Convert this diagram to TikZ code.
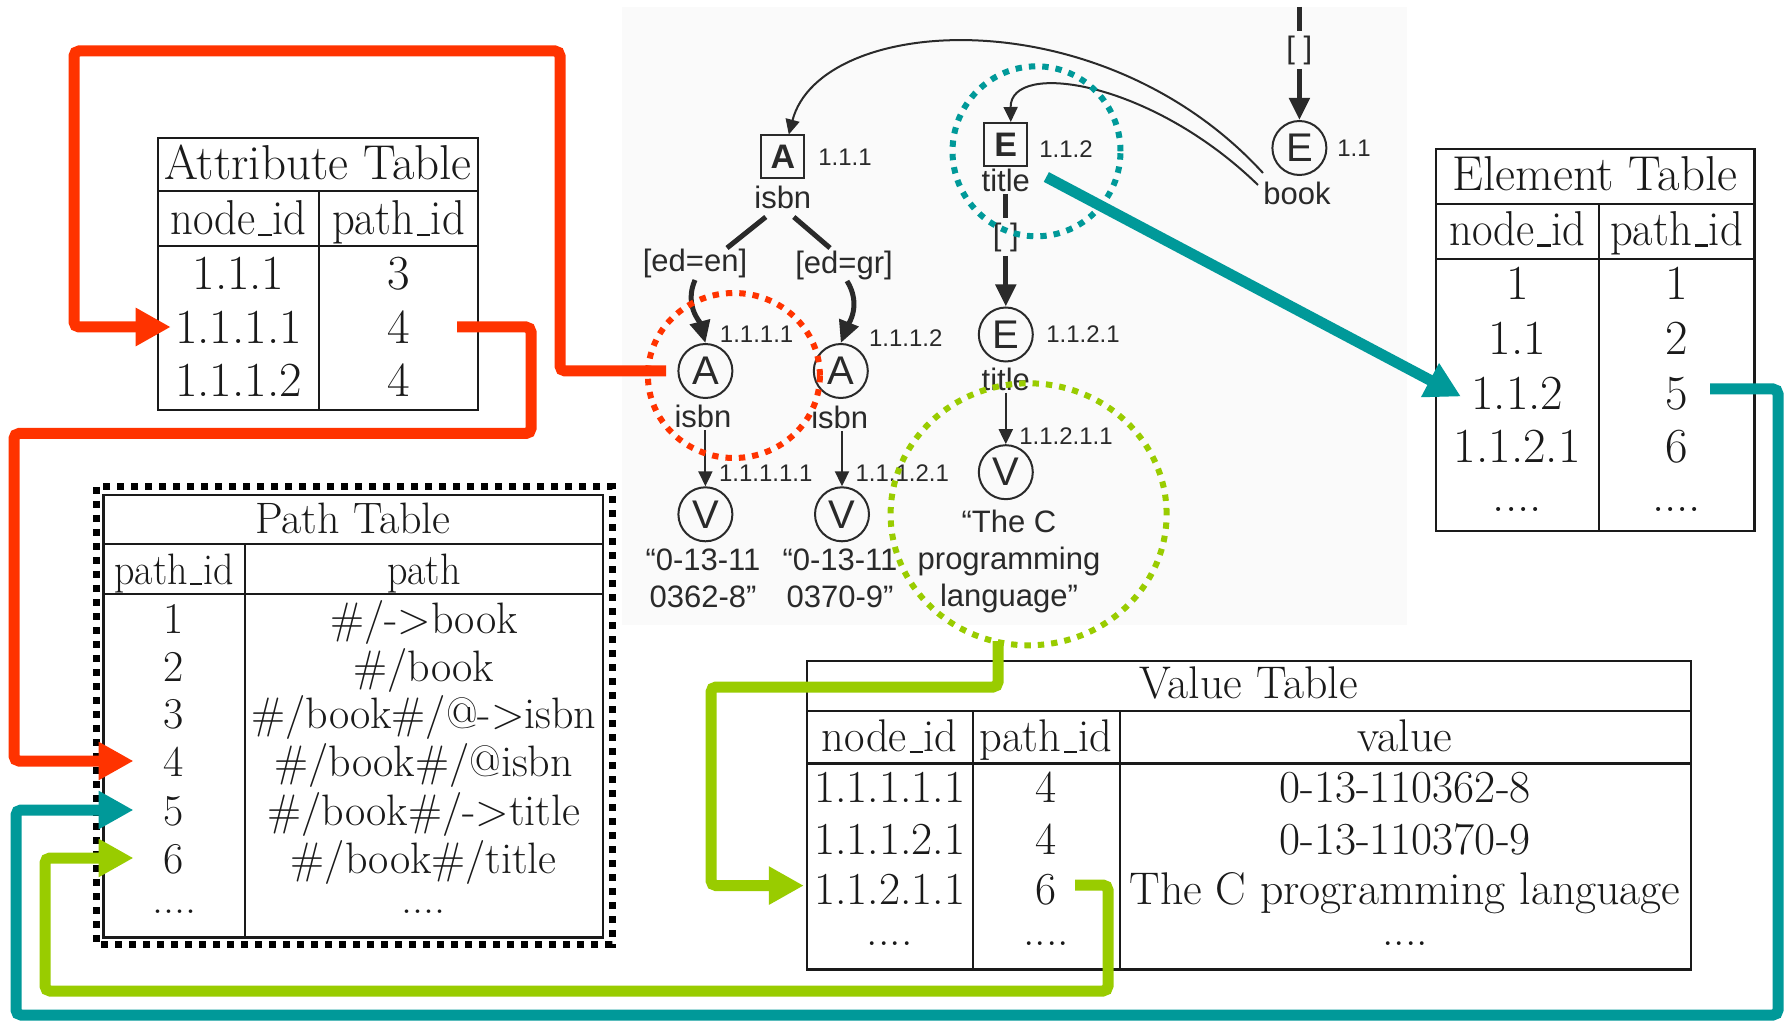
\documentclass[tikz,border=0pt]{standalone}
\usepackage{fontspec}
\newfontfamily\arialf{Liberation Sans}
\usetikzlibrary{arrows.meta,shapes.geometric,calc}
\definecolor{cRed}{HTML}{FF3300}
\definecolor{cTeal}{HTML}{009999}
\definecolor{cGreen}{HTML}{99CC00}
\definecolor{treeBg}{HTML}{FAFAFA}
\definecolor{ink}{HTML}{1A1A1A}
\definecolor{treeInk}{HTML}{2A2A2A}
% thin baseline rule used as underscore in column headers
\newcommand\usc{\kern.06em\rule[-0.02em]{.3em}{.045em}\kern.02em}
\newcommand\hd[2]{\scalebox{#1}[1]{#2}}
\begin{document}
\begin{tikzpicture}[x=0.5pt,y=-0.5pt,
  tabrule/.style={draw=ink, line width=1.1pt},
  pathbox/.style={draw=black, line width=3.5pt, dash pattern=on 3.5pt off 3.5pt},
  attf/.style={inner sep=0pt, text height=16.9pt, text depth=0pt, text=ink, font=\fontsize{24.5}{29}\selectfont},
  ptf/.style={inner sep=0pt, text height=15.2pt, text depth=0pt, text=ink, font=\fontsize{22}{26}\selectfont},
  valf/.style={inner sep=0pt, text height=15.8pt, text depth=0pt, text=ink, font=\fontsize{22.9}{27}\selectfont},
  tnode/.style={draw=treeInk, line width=1pt, inner sep=0pt, text=treeInk},
  circ/.style={tnode, circle, minimum size=27pt, font=\arialf\fontsize{20}{20}\selectfont},
  sq/.style={tnode, rectangle, minimum size=21.5pt, font=\arialf\bfseries\fontsize{17}{17}\selectfont},
  lbl/.style={text=treeInk, inner sep=1pt, font=\arialf\fontsize{15.5}{18.4}\selectfont},
  idl/.style={text=treeInk, inner sep=0pt, font=\arialf\fontsize{12}{14}\selectfont},
  thinarc/.style={draw=treeInk, line width=1pt, -{Triangle[length=7.5pt,width=7pt]}},
  thinarrow/.style={draw=treeInk, line width=1pt, -{Triangle[length=7.5pt,width=7pt]}},
  boldedge/.style={draw=treeInk, line width=2.5pt},
  boldarrow/.style={draw=treeInk, line width=2.5pt, -{Triangle[length=11pt,width=10pt]}},
  ring/.style={ellipse, line width=3pt, dash pattern=on 3.2pt off 3.5pt, inner sep=0pt},
  conn/.style={line width=5.5pt, rounded corners=2.5pt, -{Triangle[length=17.5pt,width=18pt]}}
]
\useasboundingbox (0,0) rectangle (1784,1021);
\fill[white] (0,0) rectangle (1784,1021);

% ---------- document tree ----------
\fill[treeBg] (622,7) rectangle (1407,625);

\coordinate (topIn) at (1299.4,7);
\node[circ] (bookE) at (1299.4,148) {E};
\node[idl] (bookId) at (1354,148) {1.1};
\node[lbl] (bookLbl) at (1297,193) {book};
\node[lbl, inner sep=2pt] (brTop) at (1299.4,50) {[ ]};

\node[sq] (aSq) at (782.8,157) {A};
\node[idl] (aSqId) at (845,157) {1.1.1};
\node[lbl] (aSqLbl) at (782.8,197) {isbn};

\node[sq] (eSq) at (1005.8,144.5) {E};
\node[idl] (eSqId) at (1066,149) {1.1.2};
\node[lbl] (eSqLbl) at (1005.8,180) {title};
\node[lbl, inner sep=2pt] (brMid) at (1005.8,237) {[ ]};

\node[lbl] (edEn) at (695,263) {[ed=en]};
\node[lbl] (edGr) at (844,265) {[ed=gr]};

\node[circ] (aC1) at (705.4,371) {A};
\node[idl] (aC1Id) at (756.6,334.5) {1.1.1.1};
\node[lbl] (aC1Lbl) at (703,416.4) {isbn};
\node[circ] (aC2) at (840.8,371) {A};
\node[idl] (aC2Id) at (905.7,338) {1.1.1.2};
\node[lbl] (aC2Lbl) at (839.7,417.6) {isbn};

\node[circ] (vC1) at (705.4,514.3) {V};
\node[idl] (vC1Id) at (765.7,473.3) {1.1.1.1.1};
\node[lbl, align=center] (val1) at (703,578) {“0-13-11\\0362-8”};
\node[circ] (vC2) at (842,514.3) {V};
\node[idl] (vC2Id) at (902.3,473.3) {1.1.1.2.1};
\node[lbl, align=center] (val2) at (840,578) {“0-13-11\\0370-9”};

\node[circ] (eC) at (1005.8,334.5) {E};
\node[idl] (eCId) at (1083,334.5) {1.1.2.1};
\node[lbl] (eCLbl) at (1005.8,379) {title};
\node[circ] (vC3) at (1005.8,472.2) {V};
\node[idl] (vC3Id) at (1066,435.8) {1.1.2.1.1};
\node[lbl, align=center] (val3) at (1009,561.5) {“The C\\programming\\language”};

% tree edges
\draw[boldedge] (topIn) -- (brTop);
\draw[boldarrow] (brTop) -- (bookE);
\draw[thinarc] ($(bookLbl)+(-34,-20)$) .. controls (1100,-5) and (820,15) .. ($(aSq.north)+(6,0)$);
\draw[thinarc] ($(bookLbl)+(-39,-8)$) .. controls (1150,80) and (1010,60) .. ($(eSq.north)+(5,0)$);
\draw[boldedge] ($(aSqLbl)+(-17,20)$) -- ($(edEn)+(32,-15)$);
\draw[boldedge] ($(aSqLbl)+(11,20)$) -- ($(edGr)+(-14,-17)$);
\draw[boldarrow] ($(edEn)+(0,17)$) .. controls (684,305) and (700,322) .. (aC1.north);
\draw[boldarrow] ($(edGr)+(3,16)$) .. controls (862,305) and (848,325) .. (aC2.north);
\draw[thinarrow] (aC1Lbl.south -| vC1.north) -- (vC1.north);
\draw[thinarrow] (aC2Lbl.south -| vC2.north) -- (vC2.north);
\draw[boldedge] (eSqLbl) -- (brMid);
\draw[boldarrow] (brMid) -- (eC);
\draw[thinarrow] (eCLbl) -- (vC3);

% highlight rings
\node[ring, draw=cTeal, minimum width=84pt, minimum height=85pt] (tealRing) at (1036.5,151.3) {};
\node[ring, draw=cRed, minimum width=86pt, minimum height=82.5pt] (redRing) at (733.9,375.5) {};
\node[ring, draw=cGreen, minimum width=138pt, minimum height=131pt] (greenRing) at (1028.6,514.3) {};

% ---------- Attribute Table ----------
\draw[tabrule] (158,138) rectangle (478,410);
\draw[tabrule] (158,191) -- (478,191) (158,246) -- (478,246) (319,191) -- (319,410);
\node[attf] (attTitle) at (318,163) {Attribute Table};
\node[attf] (attH1) at (238.5,218) {\hd{0.91}{node\usc id}};
\node[attf] (attH2) at (398.5,218) {\hd{0.91}{path\usc id}};
\node[attf] (attR1a) at (238.5,273) {1.1.1};
\node[attf] (attR1b) at (398.5,273) {3};
\node[attf] (attR2a) at (238.5,327) {1.1.1.1};
\node[attf] (attR2b) at (398.5,327) {4};
\node[attf] (attR3a) at (238.5,380) {1.1.1.2};
\node[attf] (attR3b) at (398.5,380) {4};

% ---------- Element Table ----------
\draw[tabrule] (1436,149) rectangle (1754.5,531);
\draw[tabrule] (1436,203.7) -- (1754.5,203.7) (1436,259.4) -- (1754.5,259.4) (1598.6,203.7) -- (1598.6,531);
\node[attf] (elTitle) at (1595,174) {Element Table};
\node[attf] (elH1) at (1517.3,228.7) {\hd{0.91}{node\usc id}};
\node[attf] (elH2) at (1676.5,228.7) {\hd{0.91}{path\usc id}};
\node[attf] (elR1a) at (1517.3,283) {1};
\node[attf] (elR1b) at (1676.5,283) {1};
\node[attf] (elR2a) at (1517.3,338) {1.1};
\node[attf] (elR2b) at (1676.5,338) {2};
\node[attf] (elR3a) at (1517.3,392.5) {1.1.2};
\node[attf] (elR3b) at (1676.5,392.5) {5};
\node[attf] (elR4a) at (1517.3,446) {1.1.2.1};
\node[attf] (elR4b) at (1676.5,446) {6};
\node[attf] (elR5a) at (1517.3,495) {....};
\node[attf] (elR5b) at (1676.5,495) {....};

% ---------- Path Table ----------
\draw[pathbox] (96,487) rectangle (612,944);
\draw[tabrule] (103.5,495) rectangle (603,937.5);
\draw[tabrule] (103.5,544) -- (603,544) (103.5,594) -- (603,594) (244.6,544) -- (244.6,937.5);
\node[ptf] (ptTitle) at (353,518) {Path Table};
\node[ptf] (ptH1) at (174,569) {\hd{0.91}{path\usc id}};
\node[ptf] (ptH2) at (423.8,569) {\hd{0.91}{path}};
\node[ptf] (ptR1a) at (174,618) {1};
\node[ptf] (ptR1b) at (423.8,618) {\#/->book};
\node[ptf] (ptR2a) at (174,666) {2};
\node[ptf] (ptR2b) at (423.8,666) {\#/book};
\node[ptf] (ptR3a) at (174,713) {3};
\node[ptf] (ptR3b) at (423.8,713) {\#/book\#/@->isbn};
\node[ptf] (ptR4a) at (174,761) {4};
\node[ptf] (ptR4b) at (423.8,761) {\#/book\#/@isbn};
\node[ptf] (ptR5a) at (174,810) {5};
\node[ptf] (ptR5b) at (423.8,810) {\#/book\#/->title};
\node[ptf] (ptR6a) at (174,858) {6};
\node[ptf] (ptR6b) at (423.8,858) {\#/book\#/title};
\node[ptf] (ptR7a) at (174,898) {....};
\node[ptf] (ptR7b) at (423.8,898) {....};

% ---------- Value Table ----------
\draw[tabrule] (806.7,661) rectangle (1690.8,969.4);
\draw[tabrule] (806.7,711) -- (1690.8,711) (806.7,763.5) -- (1690.8,763.5)
  (972.8,711) -- (972.8,969.4) (1119.6,711) -- (1119.6,969.4);
\node[valf] (vlTitle) at (1248.7,682.7) {Value Table};
\node[valf] (vlH1) at (889.7,736) {\hd{0.97}{node\usc id}};
\node[valf] (vlH2) at (1046,736) {\hd{0.97}{path\usc id}};
\node[valf] (vlH3) at (1405,736) {value};
\node[valf] (vlR1a) at (889.7,787) {1.1.1.1.1};
\node[valf] (vlR1b) at (1046,787) {4};
\node[valf] (vlR1c) at (1405,787) {0-13-110362-8};
\node[valf] (vlR2a) at (889.7,838.5) {1.1.1.2.1};
\node[valf] (vlR2b) at (1046,838.5) {4};
\node[valf] (vlR2c) at (1405,838.5) {0-13-110370-9};
\node[valf] (vlR3a) at (889.7,888.6) {1.1.2.1.1};
\node[valf] (vlR3b) at (1046,888.6) {6};
\node[valf] (vlR3c) at (1405,888.6) {The C programming language};
\node[valf] (vlR4a) at (889.7,930) {....};
\node[valf] (vlR4b) at (1046,930) {....};
\node[valf] (vlR4c) at (1405,930) {....};

% ---------- connectors ----------
\coordinate (rS1) at (666,371);
\coordinate (rS2) at (457,327);
\coordinate (tS1) at ($(eSqLbl.east)+(14,-3)$);
\coordinate (tS2) at (1710,389);
\coordinate (gS1) at (998,641);
\coordinate (gS2) at (1075,885);
\coordinate (attTip) at ($(attR2a.west)+(-4,0)$);
\coordinate (ptTip4) at ($(ptR4a.west)+(-30,0)$);
\coordinate (ptTip5) at ($(ptR5a.west)+(-30,0)$);
\coordinate (ptTip6) at ($(ptR6a.west)+(-30,0)$);
\coordinate (elTip) at ($(elR3a.west)+(-10,4)$);
\coordinate (vlTip) at ($(vlR3a.west)+(-10,-3)$);

\draw[conn, draw=cRed] (rS1) -- (560,371) -- (560,51) -- (74,51) |- (attTip);
\draw[conn, draw=cRed] (rS2) -- (531,327) -- (531,433.5) -- (14,433.5) |- (ptTip4);
\draw[conn, draw=cTeal, rounded corners=0pt] (tS1) -- (elTip);
\draw[conn, draw=cTeal] (tS2) -- (1778,389) -- (1778,1015) -- (16,1015) |- (ptTip5);
\draw[conn, draw=cGreen] (gS1) -- (998,687) -- (711,687) |- (vlTip);
\draw[conn, draw=cGreen] (gS2) -- (1108,885) -- (1108,991) -- (45,991) |- (ptTip6);
\end{tikzpicture}
\end{document}
